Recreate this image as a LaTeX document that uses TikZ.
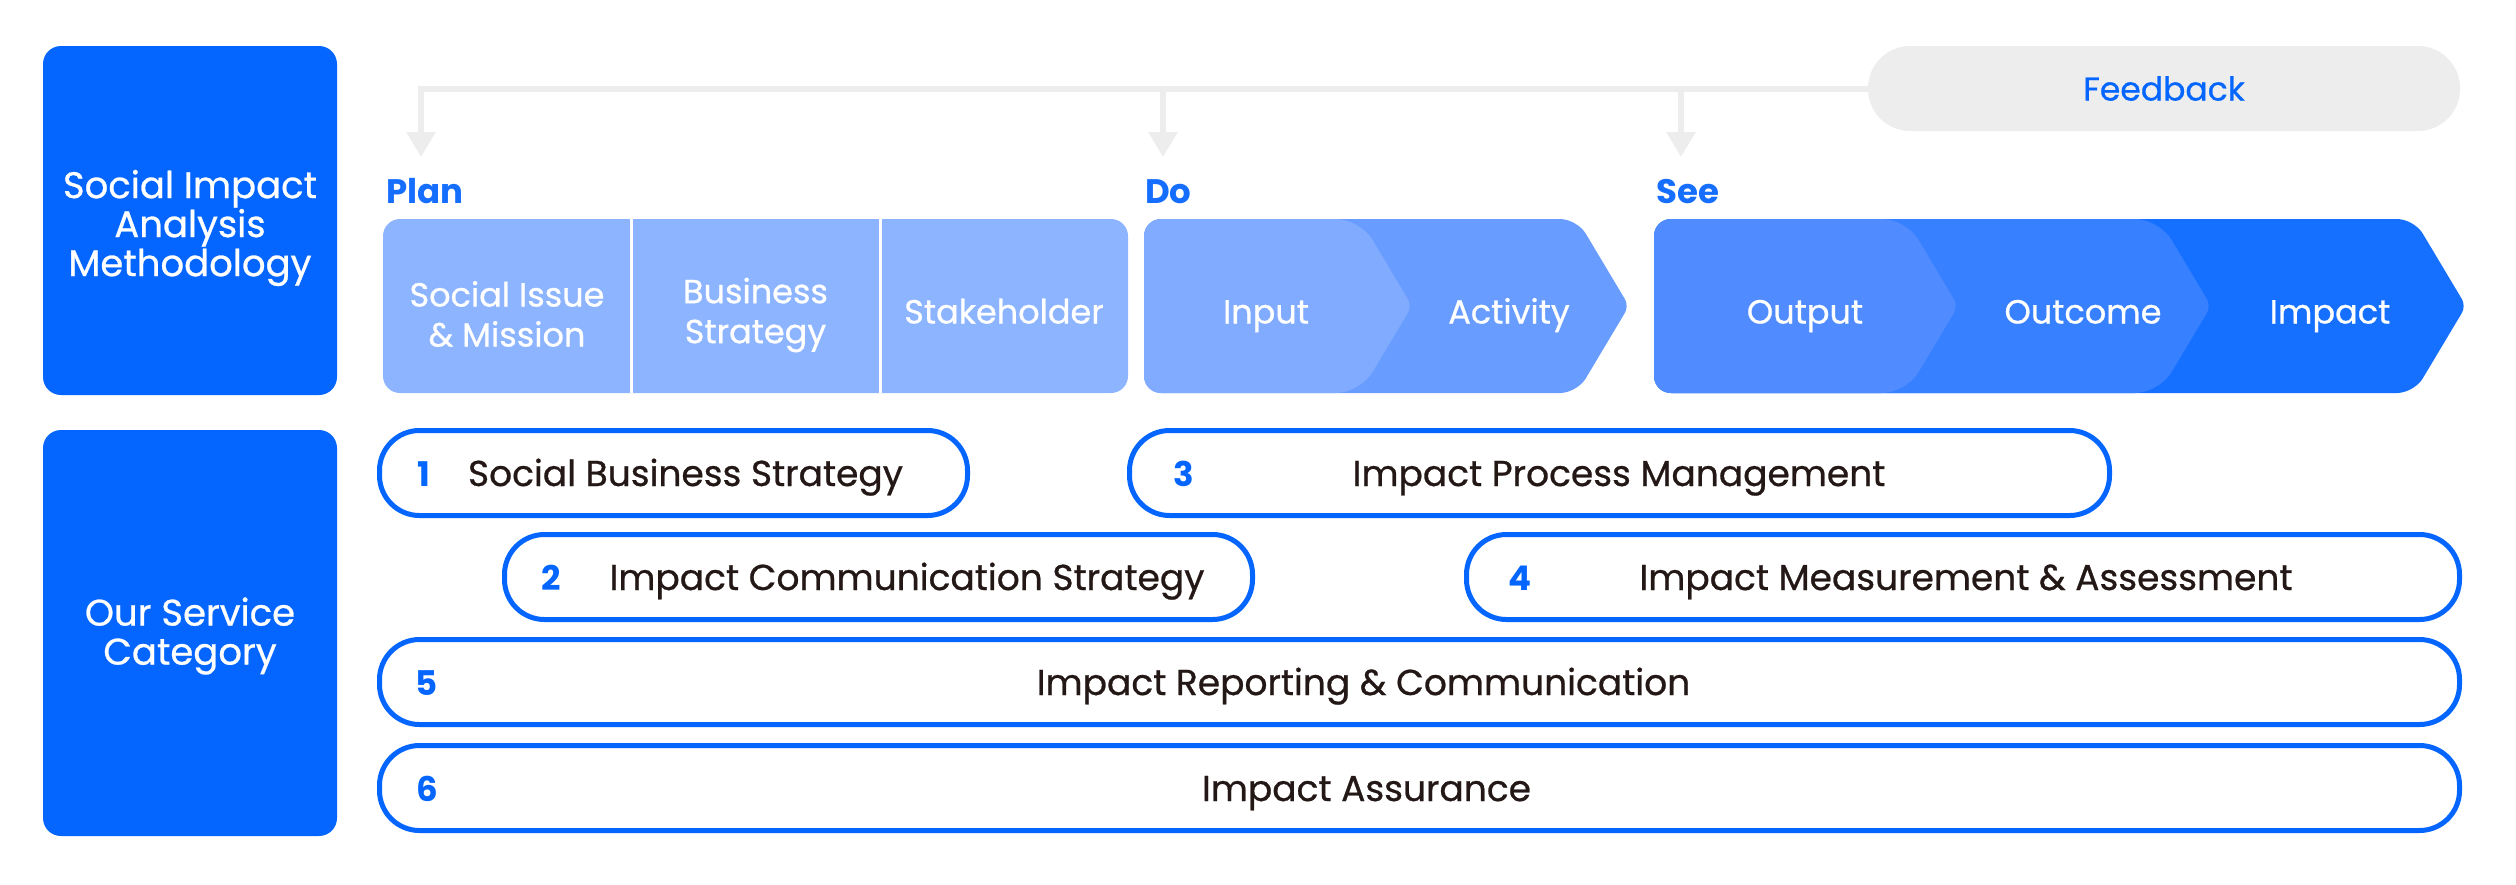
\documentclass[tikz,border=0pt]{standalone}
\usepackage{fontspec}
\setmainfont{Poppins}[UprightFeatures={FakeBold=0.7}]
\usetikzlibrary{arrows.meta}
\definecolor{mainblue}{RGB}{4,102,255}
\definecolor{phaseblue}{RGB}{22,110,255}
\definecolor{planc}{RGB}{141,180,255}
\definecolor{inputc}{RGB}{128,171,255}
\definecolor{activityc}{RGB}{104,157,255}
\definecolor{outputc}{RGB}{80,140,255}
\definecolor{outcomec}{RGB}{55,128,255}
\definecolor{impactc}{RGB}{22,112,255}
\definecolor{fbgray}{RGB}{237,237,237}
\definecolor{darktext}{RGB}{35,24,22}
\begin{document}
\begin{tikzpicture}[x=1pt,y=-1pt,
  sidebox/.style={fill=mainblue, rounded corners=18pt, inner sep=0pt},
  sidetext/.style={text=white, align=center, font=\fontsize{37}{39}\selectfont, inner sep=0pt},
  phase/.style={text=phaseblue, font=\bfseries\fontsize{34}{40}\selectfont, anchor=base west, inner sep=0pt},
  celltext/.style={text=white, font=\fontsize{33.5}{40}\selectfont, align=center, inner sep=0pt},
  cellbase/.style={celltext, anchor=base},
  pill/.style={draw=mainblue, line width=5pt, rounded corners=40pt, fill=white, inner sep=0pt, minimum height=85pt},
  numtext/.style={text=mainblue, font=\bfseries\fontsize{34}{40}\selectfont, anchor=base, inner sep=0pt},
  svctext/.style={text=darktext, font=\fontsize{36}{40}\selectfont, anchor=base, inner sep=0pt},
  fbline/.style={draw=fbgray, line width=6pt},
  fbarrow/.style={fbline, -{Triangle[width=28pt,length=25pt]}},
  fbpill/.style={fill=fbgray, rounded corners=42pt, minimum width=592pt, minimum height=85pt,
    text=mainblue, font=\fontsize{33}{40}\selectfont, inner sep=0pt}
]
\useasboundingbox (0,0) rectangle (2516,884);

% left category boxes
\node[sidebox, minimum width=294pt, minimum height=349pt] (sia) at (190,220.5) {};
\node[sidetext] (siatext) at (190,228) {Social Impact\\Analysis\\Methodology};
\node[sidebox, minimum width=294pt, minimum height=406pt] (osc) at (190,633) {};
\node[sidetext] (osctext) at (190,636) {Our Service\\Category};

% feedback loop
\node[fbpill] (fb) at (2164,88.5) {Feedback};
\coordinate (fbcorner) at (421,88.5);
\coordinate (plantip) at (421,157);
\coordinate (doroot) at (1163,88.5);
\coordinate (dotip) at (1163,157);
\coordinate (seeroot) at (1681,88.5);
\coordinate (seetip) at (1681,157);
\draw[fbarrow] (fb.west) -- (fbcorner) -- (plantip);
\draw[fbarrow] (doroot) -- (dotip);
\draw[fbarrow] (seeroot) -- (seetip);

% phase labels
\node[phase] (plan) at (386,203) {Plan};
\node[phase] (do) at (1145,203) {Do};
\node[phase] (see) at (1656,203) {See};

% Plan block
\fill[planc, rounded corners=17pt] (383,219) rectangle (1128,393);
\draw[white, line width=3pt] (631.5,219) -- (631.5,393);
\draw[white, line width=3pt] (880,219) -- (880,393);
\node[celltext] (issue) at (507,314) {Social Issue\\\& Mission};
\node[celltext] (bizstr) at (755.5,315) {Business\\Strategy};
\node[cellbase] (stake) at (1004,323.5) {Stakeholder};

% Do block
\fill[activityc, rounded corners=17pt] (1144,219) -- (1577,219) [rounded corners=8pt] -- (1629,306) [rounded corners=17pt] -- (1577,393) -- (1144,393) -- cycle;
\fill[inputc, rounded corners=24pt] (1144,219) -- (1360,219) [rounded corners=8pt] -- (1412,306) [rounded corners=24pt] -- (1360,393) [rounded corners=17pt] -- (1144,393) -- cycle;
\node[cellbase] (input) at (1266,323.5) {Input};
\node[cellbase] (activity) at (1509,323.5) {Activity};

% See block
\fill[impactc, rounded corners=17pt] (1654,219) -- (2414,219) [rounded corners=8pt] -- (2466,306) [rounded corners=17pt] -- (2414,393) -- (1654,393) -- cycle;
\fill[outcomec, rounded corners=24pt] (1654,219) -- (2159,219) [rounded corners=8pt] -- (2211,306) [rounded corners=24pt] -- (2159,393) [rounded corners=17pt] -- (1654,393) -- cycle;
\fill[outputc, rounded corners=24pt] (1654,219) -- (1906,219) [rounded corners=8pt] -- (1958,306) [rounded corners=24pt] -- (1906,393) [rounded corners=17pt] -- (1654,393) -- cycle;
\node[cellbase] (output) at (1805,323.5) {Output};
\node[cellbase] (outcome) at (2083,323.5) {Outcome};
\node[cellbase] (impact) at (2330,323.5) {Impact};

% service pills
\node[pill, minimum width=588pt] (p1) at (673.5,473) {};
\node[pill, minimum width=748pt] (p2) at (878.5,577) {};
\node[pill, minimum width=980pt] (p3) at (1619.5,473) {};
\node[pill, minimum width=993pt] (p4) at (1963,577) {};
\node[pill, minimum width=2080pt] (p5) at (1419.5,682) {};
\node[pill, minimum width=2080pt] (p6) at (1419.5,788) {};

\node[numtext] (n1) at (424,486) {1};
\node[numtext] (n2) at (551,590) {2};
\node[numtext] (n3) at (1184,486) {3};
\node[numtext] (n4) at (1520,590) {4};
\node[numtext] (n5) at (427,695) {5};
\node[numtext] (n6) at (427,801) {6};

\node[svctext] (s1) at (685.5,486) {Social Business Strategy};
\node[svctext] (s2) at (907,590) {Impact Communication Strategy};
\node[svctext] (s3) at (1619,486) {Impact Process Management};
\node[svctext] (s4) at (1966,590) {Impact Measurement \& Assessment};
\node[svctext] (s5) at (1363.5,695) {Impact Reporting \& Communication};
\node[svctext] (s6) at (1366.5,801) {Impact Assurance};
\end{tikzpicture}
\end{document}
